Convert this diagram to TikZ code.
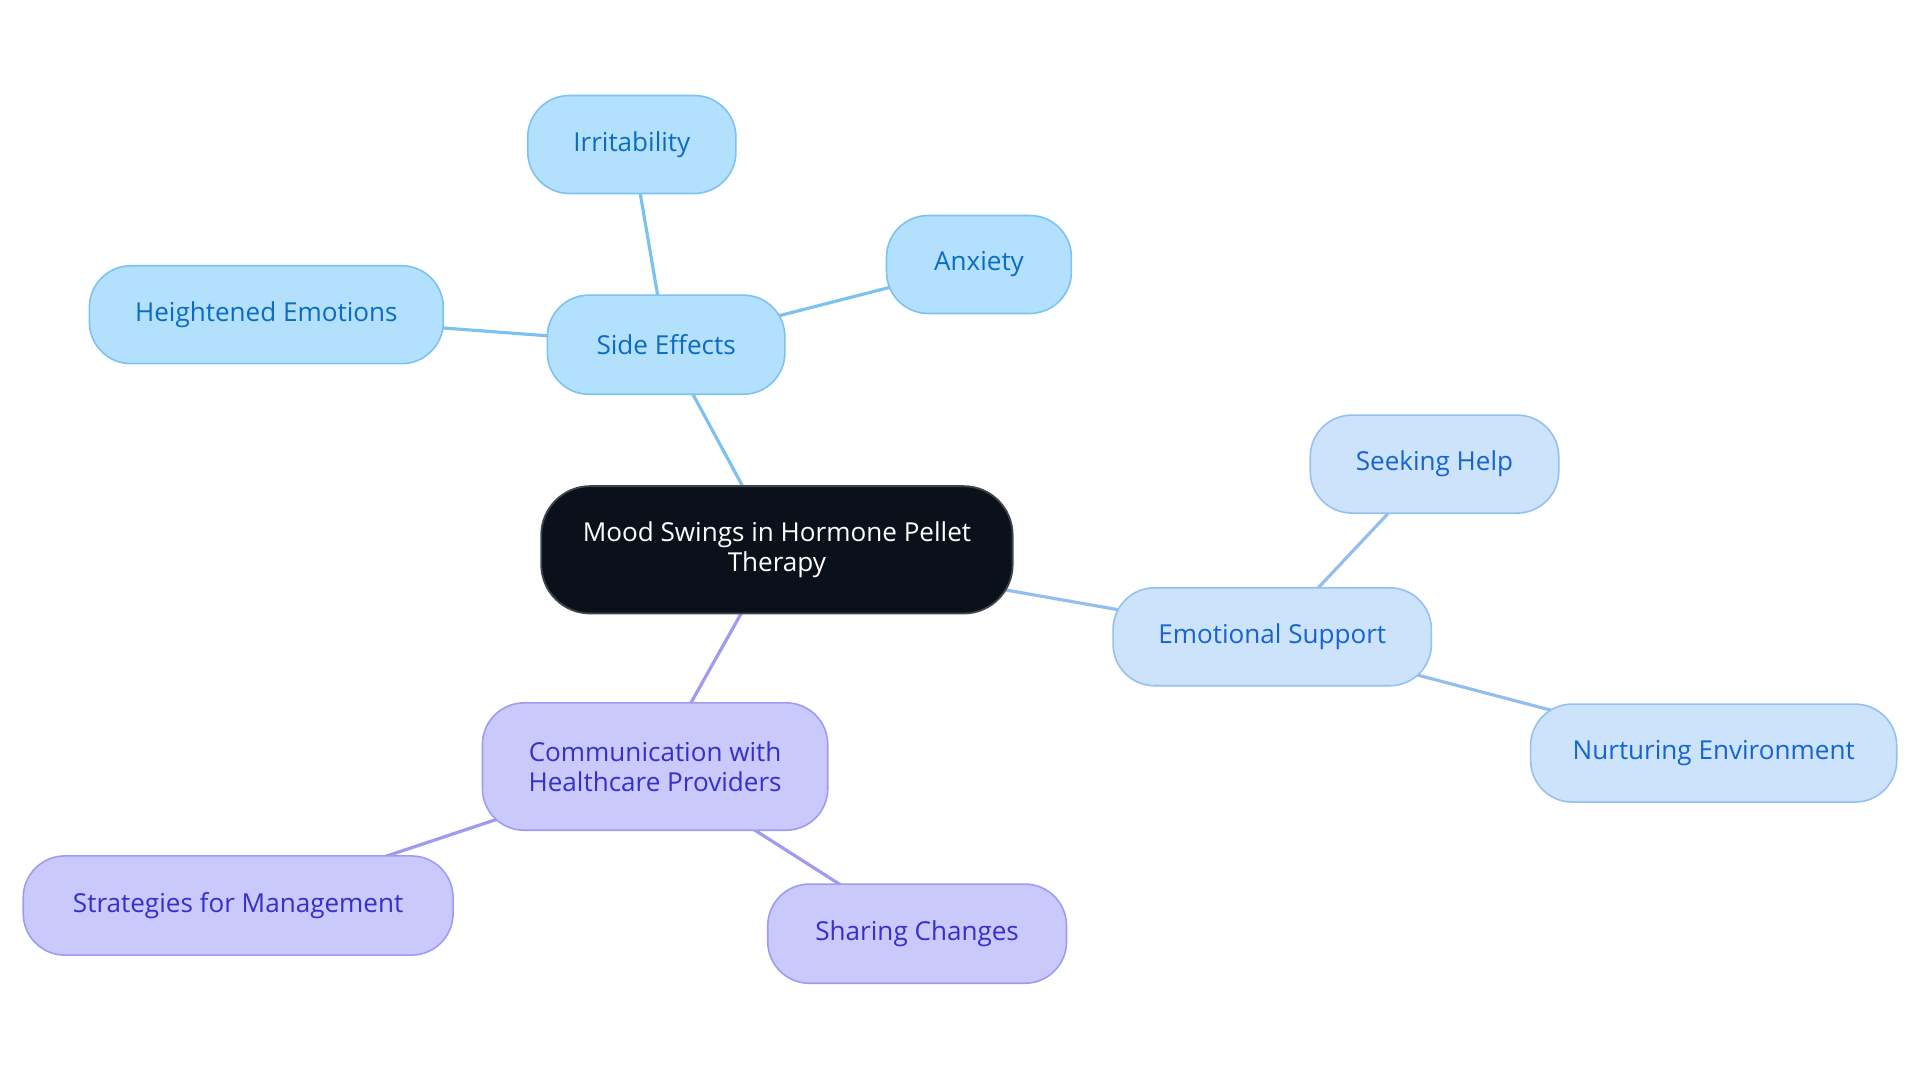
\documentclass[tikz,border=0pt]{standalone}
\usepackage{fontspec}
\setmainfont{Open Sans}
\usetikzlibrary{backgrounds}
\definecolor{seFill}{HTML}{B3E0FD}
\definecolor{seDraw}{HTML}{7DC2F0}
\definecolor{seText}{HTML}{0B6CC0}
\definecolor{esFill}{HTML}{CCE3FB}
\definecolor{esDraw}{HTML}{94C1F0}
\definecolor{esText}{HTML}{1765CC}
\definecolor{cmFill}{HTML}{C9C9FC}
\definecolor{cmDraw}{HTML}{9D9CF0}
\definecolor{cmText}{HTML}{3530C8}
\definecolor{seLine}{HTML}{7DC1EF}
\definecolor{esLine}{HTML}{93BFEE}
\definecolor{cmLine}{HTML}{9E9BF0}
\definecolor{rootFill}{HTML}{0B111B}
\definecolor{rootDraw}{HTML}{40454D}
\begin{document}
\begin{tikzpicture}[x=1pt,y=-1pt,
  box/.style={rounded corners=34pt, line width=1.3pt, align=center, inner sep=0pt,
    font=\fontsize{21.3}{24}\selectfont},
  sebox/.style={box, fill=seFill, draw=seDraw, text=seText},
  esbox/.style={box, fill=esFill, draw=esDraw, text=esText},
  cmbox/.style={box, fill=cmFill, draw=cmDraw, text=cmText},
  rootbox/.style={box, rounded corners=40pt, fill=rootFill, draw=rootDraw, text=white, line width=1.5pt},
  seedge/.style={draw=seLine, line width=2.6pt},
  esedge/.style={draw=esLine, line width=2.6pt},
  cmedge/.style={draw=cmLine, line width=2.6pt}]
\useasboundingbox (0,0) rectangle (1568,884);
\node[rootbox, minimum width=385pt, minimum height=104pt] (root) at (634.5,449) {Mood Swings in Hormone Pellet\\Therapy};
\node[sebox, minimum width=194pt, minimum height=81pt] (se) at (544,281.5) {Side Effects};
\node[sebox, minimum width=170pt, minimum height=80pt] (irr) at (516,118) {Irritability};
\node[sebox, minimum width=151pt, minimum height=80pt] (anx) at (799.5,216) {Anxiety};
\node[sebox, minimum width=289pt, minimum height=80pt] (hei) at (217.5,257) {Heightened Emotions};
\node[esbox, minimum width=260pt, minimum height=80pt] (es) at (1039,520) {Emotional Support};
\node[esbox, minimum width=203pt, minimum height=80pt] (seek) at (1171.5,379) {Seeking Help};
\node[esbox, minimum width=299pt, minimum height=80pt] (nur) at (1399.5,615) {Nurturing Environment};
\node[cmbox, minimum width=282pt, minimum height=104pt] (cm) at (535,626) {Communication with\\Healthcare Providers};
\node[cmbox, minimum width=351pt, minimum height=81pt] (str) at (194.5,739.5) {Strategies for Management};
\node[cmbox, minimum width=244pt, minimum height=81pt] (sha) at (749,762.5) {Sharing Changes};
\begin{pgfonlayer}{background}
\draw[seedge] (root.center) -- (se.center);
\draw[seedge] (se.center) -- (irr.center);
\draw[seedge] (se.center) -- (anx.center);
\draw[seedge] (se.center) -- (hei.center);
\draw[esedge] (root.center) -- (es.center);
\draw[esedge] (es.center) -- (seek.center);
\draw[esedge] (es.center) -- (nur.center);
\draw[cmedge] (root.center) -- (cm.center);
\draw[cmedge] (cm.center) -- (str.center);
\draw[cmedge] (cm.center) -- (sha.center);
\end{pgfonlayer}
\end{tikzpicture}
\end{document}
